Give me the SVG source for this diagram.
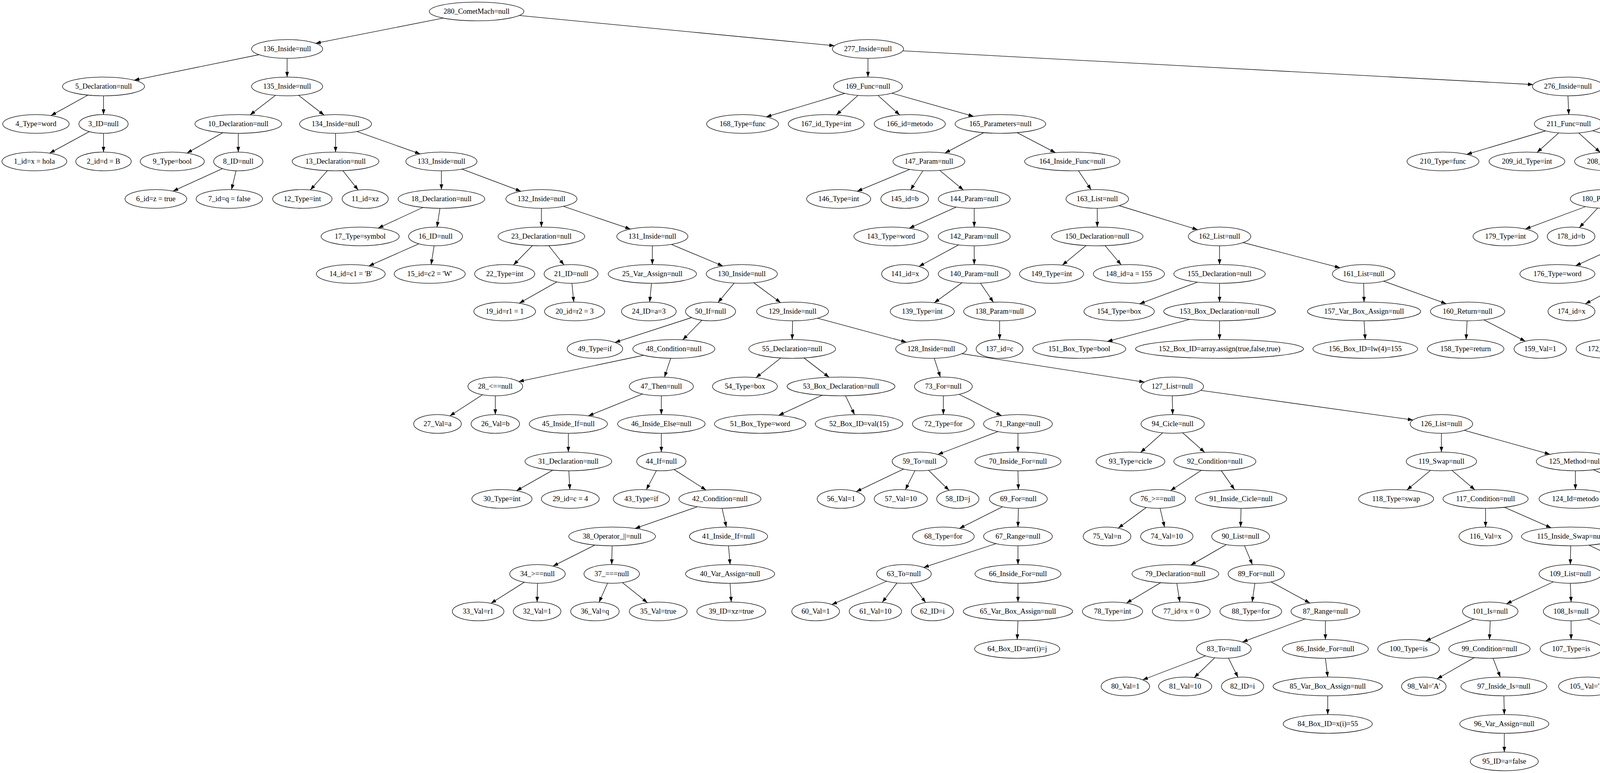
<svg xmlns="http://www.w3.org/2000/svg" width="7778" height="1979" viewBox="0 0 7778 1979">
<style>
ellipse{fill:none;stroke:#000;stroke-width:1.33}
text{font-family:"Liberation Serif","Times New Roman",serif;font-size:18.67px;text-anchor:middle;fill:#000}
#edges path{fill:none;stroke:#000;stroke-width:1.33;marker-end:url(#ah)}
</style>
<defs>
<marker id="ah" viewBox="0 0 13.33 9.33" refX="13.33" refY="4.67" markerWidth="13.33" markerHeight="9.33" markerUnits="userSpaceOnUse" orient="auto"><path d="M0,0L13.33,4.67L0,9.33z" fill="#000"/></marker>
</defs>
<rect width="7778" height="1979" fill="#fff"/>
<g id="edges">
<path d="M1134.3,46.3L807.8,110.9"/>
<path d="M1328.9,39.7L2136.4,117.1"/>
<path d="M663,140L343.3,205.3"/>
<path d="M735,149.3L735,197.3"/>
<path d="M2222,149.3L2222,197.3"/>
<path d="M2311.2,130.1L3924.8,216.5"/>
<path d="M225,243.5L130.5,295.9"/>
<path d="M265,245.3L265,293.3"/>
<path d="M705.4,244L640.1,294.2"/>
<path d="M764.3,244L829.6,294.6"/>
<path d="M2162.7,239L1961.5,299.2"/>
<path d="M2196.4,244.3L2140.8,294.2"/>
<path d="M2247.6,244.3L2303.3,294.3"/>
<path d="M2283.1,238.6L2492.6,297.9"/>
<path d="M4014,245.3L4016,293.3"/>
<path d="M4101.9,227.5L5297.1,311.1"/>
<path d="M228.8,336.9L127.1,392.1"/>
<path d="M265,341.3L265,389.3"/>
<path d="M570.5,339.7L478.6,392"/>
<path d="M610,341.3L610,389.3"/>
<path d="M859,341.3L859,389.3"/>
<path d="M913.5,336.6L1075.7,394.1"/>
<path d="M2518.4,339.6L2419,391.8"/>
<path d="M2603.8,339.6L2702,390.8"/>
<path d="M3956.6,335L3754.6,395.2"/>
<path d="M3990.4,340.3L3934.8,390.2"/>
<path d="M4041.4,340.3L4096.6,390.3"/>
<path d="M4076.9,334.6L4285.7,393.9"/>
<path d="M5386,341.3L5386,389.3"/>
<path d="M5464.8,329.7L5923,401.5"/>
<path d="M569.6,431.7L442.9,489.3"/>
<path d="M604.3,437.2L592.7,485.4"/>
<path d="M838.1,436.9L794.5,486.2"/>
<path d="M877.7,436.9L916.9,486.5"/>
<path d="M1130,437.3L1130,485.3"/>
<path d="M1182.4,432.9L1333.6,489.7"/>
<path d="M2329.1,433.6L2194.2,489.7"/>
<path d="M2362.7,437L2331,486"/>
<path d="M2405.7,436.2L2466.3,486.4"/>
<path d="M2760.9,437.1L2793.3,485.8"/>
<path d="M4300.3,434.6L4162.6,489.2"/>
<path d="M4383.1,436.5L4444.9,486"/>
<path d="M5340.4,433.7L5217.4,488.6"/>
<path d="M5386,437.3L5386,485.3"/>
<path d="M5435.1,433L5571.9,488"/>
<path d="M5972.2,436.2L5915.9,486.3"/>
<path d="M6023.5,436.2L6079.2,486.2"/>
<path d="M6068.8,426.9L6411.1,492.9"/>
<path d="M1082.9,531L968.1,584"/>
<path d="M1126.3,533.3L1118.7,581.4"/>
<path d="M1386,533.3L1386,581.3"/>
<path d="M1442,528.2L1614,586.4"/>
<path d="M2447.9,530.1L2327.5,584.4"/>
<path d="M2494,533.3L2494,581.3"/>
<path d="M2809,533.3L2809,581.3"/>
<path d="M2864.9,526.5L3066.1,588.1"/>
<path d="M4059.2,529L3904.9,586.3"/>
<path d="M4090.1,532.6L4043.1,582.8"/>
<path d="M4133.4,532.6L4178.6,582"/>
<path d="M4489.4,533.1L4520.8,581.7"/>
<path d="M5615.8,533.2L5597.2,581.4"/>
<path d="M5679.2,530.5L5815.3,583.9"/>
<path d="M6496,533.3L6496,581.3"/>
<path d="M6560.3,529.3L6739.7,585"/>
<path d="M1072.4,624.2L944.2,680.9"/>
<path d="M1111.3,629.3L1103.7,677.4"/>
<path d="M1363,628.8L1314.5,678.3"/>
<path d="M1404.7,628.9L1443.7,678.2"/>
<path d="M1670,629.3L1670,677.3"/>
<path d="M1718.5,625.6L1850.5,681"/>
<path d="M2454.1,626.9L2352.6,682"/>
<path d="M2494,629.3L2494,677.3"/>
<path d="M2780.6,628.6L2719.6,678.7"/>
<path d="M2829,628.9L2870.2,677.9"/>
<path d="M3122,629.3L3122,677.3"/>
<path d="M3182.4,621L3430.6,685.6"/>
<path d="M4153.9,626.1L4033.6,680.3"/>
<path d="M4200,629.3L4200,677.3"/>
<path d="M4536,629.3L4536,677.3"/>
<path d="M4590,623L4775,683.6"/>
<path d="M5542.2,626.1L5421.4,681.1"/>
<path d="M5577.3,629.1L5555.6,677.7"/>
<path d="M5619.7,627.8L5691.3,678.8"/>
<path d="M5891.4,628.9L5935.6,677.7"/>
<path d="M6457.6,627.1L6364.6,680"/>
<path d="M6496,629.3L6496,677.3"/>
<path d="M6536.1,626.9L6633.9,679.7"/>
<path d="M6840,628.3L6917.9,679.5"/>
<path d="M1425.8,721.7L1329.4,776.2"/>
<path d="M1464.2,725.3L1468.8,773.3"/>
<path d="M1667.8,725.3L1663.2,773.3"/>
<path d="M1879.5,724.7L1838.1,774.4"/>
<path d="M1929.6,723.9L1998.4,774.7"/>
<path d="M2462.7,723.9L2391.8,775.1"/>
<path d="M2510,724.9L2543,773.7"/>
<path d="M3065.7,722.3L2917.3,777.8"/>
<path d="M3122,725.3L3122,773.3"/>
<path d="M3491,725.3L3492,773.3"/>
<path d="M3542.1,719.8L3702.5,777.6"/>
<path d="M4160.1,722.9L4058.6,778"/>
<path d="M4200,725.3L4200,773.3"/>
<path d="M4503.1,724.3L4430.6,775.2"/>
<path d="M4551.1,725.1L4582,773.6"/>
<path d="M4829,725.3L4829,773.3"/>
<path d="M4889.7,716.9L5141.3,781.7"/>
<path d="M5677.9,722.2L5561.6,776.2"/>
<path d="M5724.7,725.3L5728.3,773.3"/>
<path d="M5955.3,725.3L5951.7,773.3"/>
<path d="M6012.1,722.5L6149.7,775.3"/>
<path d="M6641.9,723.8L6569.3,774.7"/>
<path d="M6692.6,724.8L6731.4,773.8"/>
<path d="M6951,725.3L6951,773.3"/>
<path d="M6993.6,721.5L7108.7,776.3"/>
<path d="M1770.6,813L1574.2,876.7"/>
<path d="M1796.9,819.8L1747.9,869.9"/>
<path d="M2029,821.3L2028,869.3"/>
<path d="M2092.9,814.6L2320.5,876.1"/>
<path d="M2559,821.3L2559,869.3"/>
<path d="M3046,817.6L2834.7,874.1"/>
<path d="M3122,821.3L3122,869.3"/>
<path d="M3492,821.3L3495,869.3"/>
<path d="M3755.8,821.3L3753.2,869.3"/>
<path d="M3798.8,818.9L3904.8,873.6"/>
<path d="M4179.8,820.7L4137.1,870"/>
<path d="M4227.4,820.2L4287.6,870.4"/>
<path d="M4772.5,818.3L4623.4,873.8"/>
<path d="M4829,821.3L4829,869.3"/>
<path d="M5202,821.3L5202,869.3"/>
<path d="M5252.2,816L5409.8,874.6"/>
<path d="M5723.8,821.2L5711.2,869.4"/>
<path d="M5765.1,819.5L5846.9,871.1"/>
<path d="M6185.3,821L6140.6,869.7"/>
<path d="M6268,819L6412.6,870.4"/>
<path d="M6756.5,821.2L6769.5,869.4"/>
<path d="M7116.3,819.3L7028.5,872"/>
<path d="M7173.5,820.7L7216.3,869.7"/>
<path d="M1647.7,909.5L1327.7,976.8"/>
<path d="M1717,917.2L1701,965.4"/>
<path d="M1998.8,916.5L1935.4,966.7"/>
<path d="M2058.1,916.4L2122.5,965.9"/>
<path d="M2391.7,917.2L2407.3,965.4"/>
<path d="M2462.4,905.5L2930,978.3"/>
<path d="M4302.9,917.1L4278,965.8"/>
<path d="M4753,913.6L4541.9,970.1"/>
<path d="M4829,917.3L4829,965.3"/>
<path d="M5202,917.3L5202,965.3"/>
<path d="M5460,917.3L5461,965.3"/>
<path d="M5505.5,913L5633.2,968.6"/>
<path d="M5882,917.3L5881,965.3"/>
<path d="M5925.6,914.4L6036.2,968.1"/>
<path d="M6952.3,913.7L6840,969.8"/>
<path d="M6986.3,917.2L6972.7,965.4"/>
<path d="M7023.3,915.4L7096.1,968.3"/>
<path d="M7249.9,917.2L7276.2,965.6"/>
<path d="M1235.3,1010.5L1151.6,1064.8"/>
<path d="M1268,1013.3L1268,1061.3"/>
<path d="M1644.8,1008.7L1506.1,1064.7"/>
<path d="M1693,1013.3L1693,1061.3"/>
<path d="M2104.5,1011.8L1993.3,1063.4"/>
<path d="M2164.5,1013.2L2187.6,1061.4"/>
<path d="M2415,1013.3L2415,1061.3"/>
<path d="M2455.1,1009.5L2564,1064.2"/>
<path d="M3001,1013.3L3002,1061.3"/>
<path d="M3073.6,999.4L3617.4,1075.2"/>
<path d="M5414.8,1010.6L5298.4,1064.4"/>
<path d="M5461,1013.3L5462,1061.3"/>
<path d="M5681,1013.3L5680,1061.3"/>
<path d="M5723.3,1010.8L5831.2,1065.6"/>
<path d="M6073,1013.2L6059,1061.5"/>
<path d="M6114.6,1011.6L6194.5,1063.1"/>
<path d="M7265,1012.2L7212.2,1062.3"/>
<path d="M7312.8,1012.2L7364.9,1062.1"/>
<path d="M1455,1109.3L1455,1157.3"/>
<path d="M1693,1109.3L1693,1157.3"/>
<path d="M2554.8,1104.8L2400.8,1163.5"/>
<path d="M2606,1109.3L2606,1157.3"/>
<path d="M2976.4,1108.1L2919.8,1158.4"/>
<path d="M3027.6,1108.1L3083.9,1158.1"/>
<path d="M3690,1109.3L3690,1157.3"/>
<path d="M3748.5,1101.7L3967.9,1163.1"/>
<path d="M5439.7,1108.6L5391.8,1158.6"/>
<path d="M5484.3,1108.6L5531.7,1158"/>
<path d="M6202.2,1108.3L6144.1,1158.1"/>
<path d="M6255.6,1108.3L6313.4,1158.3"/>
<path d="M7362.9,1108.3L7305.6,1158.7"/>
<path d="M7424.1,1107.5L7504.9,1158.5"/>
<path d="M1415.3,1203.7L1322.2,1256.3"/>
<path d="M1456.2,1205.3L1458.8,1253.3"/>
<path d="M1680.5,1204.8L1654.6,1253.7"/>
<path d="M1725.2,1201.9L1807.7,1254.7"/>
<path d="M2313.2,1200.8L2191.8,1258.8"/>
<path d="M2342.2,1205L2317.8,1253.7"/>
<path d="M2377.1,1204L2429.7,1255.4"/>
<path d="M2606,1205.3L2607,1253.3"/>
<path d="M3075.5,1204L2996.5,1256"/>
<path d="M3126.5,1205L3160.4,1253.5"/>
<path d="M3662.4,1204.1L3601.8,1254.3"/>
<path d="M3717,1204.2L3775.7,1254.1"/>
<path d="M4033,1205.3L4033,1253.3"/>
<path d="M4079.3,1202.6L4196.5,1256.4"/>
<path d="M5529.9,1204.5L5477.9,1254.3"/>
<path d="M5577.9,1204.5L5629.1,1254.1"/>
<path d="M6318.6,1204.6L6272.6,1254.8"/>
<path d="M6361.4,1204.6L6406.6,1254"/>
<path d="M7236.9,1201.1L7112.4,1258.3"/>
<path d="M7269.1,1205.1L7246.9,1253.6"/>
<path d="M7306.9,1203.7L7369.1,1255.7"/>
<path d="M7561.9,1204.9L7605,1253.5"/>
<path d="M1785.3,1297.4L1625.6,1352.9"/>
<path d="M1848.5,1301.3L1859.5,1349.3"/>
<path d="M2566.7,1297.4L2456,1352.8"/>
<path d="M2607,1301.3L2606,1349.3"/>
<path d="M2934.5,1299.1L2862.7,1352.1"/>
<path d="M2969.7,1301.2L2981.3,1349.4"/>
<path d="M3177,1301.3L3176,1349.3"/>
<path d="M3803,1301.3L3803,1349.3"/>
<path d="M3851.7,1298.8L3971,1351.3"/>
<path d="M4242,1301.3L4242,1349.3"/>
<path d="M4283.2,1298.8L4384.8,1351.8"/>
<path d="M5653,1301.3L5653,1349.3"/>
<path d="M6403.2,1300.4L6349.7,1350.3"/>
<path d="M6452.6,1300.4L6505.4,1350.2"/>
<path d="M7626,1301.3L7626,1349.3"/>
<path d="M1523.1,1395.3L1415.6,1449.4"/>
<path d="M1567,1397.3L1566,1445.3"/>
<path d="M1865,1397.3L1869,1445.3"/>
<path d="M2549.8,1391.8L2364.5,1452.7"/>
<path d="M2606,1397.3L2606,1445.3"/>
<path d="M3139.6,1394.2L3048.1,1446.8"/>
<path d="M3185.9,1397.1L3206.1,1445.5"/>
<path d="M4021,1397.3L4020,1445.3"/>
<path d="M4067.7,1395.6L4177.4,1448"/>
<path d="M4426,1397.3L4427,1445.3"/>
<path d="M6508.1,1396.6L6461,1446.9"/>
<path d="M6551.4,1396.6L6596.6,1446"/>
<path d="M1342.5,1490.4L1256.9,1544.5"/>
<path d="M1376,1493.3L1375,1541.3"/>
<path d="M1555.4,1493L1533.6,1541.7"/>
<path d="M1593.4,1491.4L1657.4,1543"/>
<path d="M1869,1493.3L1872,1541.3"/>
<path d="M2270,1488L2129.4,1547.7"/>
<path d="M2296.3,1492.5L2258.6,1542.1"/>
<path d="M2331.7,1492.5L2369.7,1542.6"/>
<path d="M2606,1493.3L2606,1541.3"/>
<path d="M2971.2,1491.9L2883.7,1544"/>
<path d="M3012.7,1493.3L3020.3,1541.3"/>
<path d="M3212.5,1493.3L3205.5,1541.3"/>
<path d="M3253.7,1489.7L3353.5,1543.9"/>
<path d="M3976.8,1489.5L3856.6,1545.8"/>
<path d="M4020,1493.3L4022,1541.3"/>
<path d="M4222,1493.3L4222,1541.3"/>
<path d="M4276.6,1489.1L4427,1543.8"/>
<path d="M6592.8,1492.4L6538.2,1542.2"/>
<path d="M6643,1492.4L6697,1542.2"/>
<path d="M2606,1589.3L2604,1637.3"/>
<path d="M3340.7,1584.6L3180.6,1643.7"/>
<path d="M3393,1589.3L3393,1637.3"/>
<path d="M3772.9,1584.6L3649.6,1641.3"/>
<path d="M3815,1589.3L3813,1637.3"/>
<path d="M4022,1589.3L4022,1637.3"/>
<path d="M4064.6,1584.5L4187,1639.7"/>
<path d="M4486,1589.3L4490,1637.3"/>
<path d="M6722,1589.3L6722,1637.3"/>
<path d="M3086.2,1679.1L2925.2,1740.5"/>
<path d="M3109.7,1683.9L3057.3,1734.7"/>
<path d="M3144.8,1685L3169.3,1733.9"/>
<path d="M3393,1685.3L3399,1733.3"/>
<path d="M3774.1,1683.6L3678.8,1738"/>
<path d="M3822.2,1685.2L3840.8,1733.4"/>
<path d="M4195.1,1683.7L4101,1736.5"/>
<path d="M4243.5,1685.2L4260.5,1733.4"/>
<path d="M4490,1685.3L4490,1733.3"/>
<path d="M3399,1781.3L3399,1829.3"/>
<path d="M3850,1781.3L3851,1829.3"/>
<path d="M4269,1781.3L4269,1829.3"/>
<path d="M3851,1877.3L3851,1925.3"/>
<path d="M4269,1877.3L4269,1925.3"/>
</g>
<g id="n280"><ellipse cx="1220" cy="29.3" rx="121" ry="24"/><text x="1220" y="35.3">280_CometMach=null</text></g>
<g id="n136"><ellipse cx="735" cy="125.3" rx="91" ry="24"/><text x="735" y="131.3">136_Inside=null</text></g>
<g id="n277"><ellipse cx="2222" cy="125.3" rx="91" ry="24"/><text x="2222" y="131.3">277_Inside=null</text></g>
<g id="n5"><ellipse cx="265" cy="221.3" rx="105" ry="24"/><text x="265" y="227.3">5_Declaration=null</text></g>
<g id="n135"><ellipse cx="735" cy="221.3" rx="91" ry="24"/><text x="735" y="227.3">135_Inside=null</text></g>
<g id="n169"><ellipse cx="2222" cy="221.3" rx="88" ry="24"/><text x="2222" y="227.3">169_Func=null</text></g>
<g id="n276"><ellipse cx="4014" cy="221.3" rx="91" ry="24"/><text x="4014" y="227.3">276_Inside=null</text></g>
<g id="n4"><ellipse cx="92" cy="317.3" rx="85" ry="24"/><text x="92" y="323.3">4_Type=word</text></g>
<g id="n3"><ellipse cx="265" cy="317.3" rx="63" ry="24"/><text x="265" y="323.3">3_ID=null</text></g>
<g id="n10"><ellipse cx="610" cy="317.3" rx="111" ry="24"/><text x="610" y="323.3">10_Declaration=null</text></g>
<g id="n134"><ellipse cx="859" cy="317.3" rx="92" ry="24"/><text x="859" y="323.3">134_Inside=null</text></g>
<g id="n168"><ellipse cx="1901" cy="317.3" rx="92" ry="24"/><text x="1901" y="323.3">168_Type=func</text></g>
<g id="n167"><ellipse cx="2115" cy="317.3" rx="97" ry="24"/><text x="2115" y="323.3">167_id_Type=int</text></g>
<g id="n166"><ellipse cx="2329" cy="317.3" rx="91" ry="24"/><text x="2329" y="323.3">166_id=metodo</text></g>
<g id="n165"><ellipse cx="2561" cy="317.3" rx="116" ry="24"/><text x="2561" y="323.3">165_Parameters=null</text></g>
<g id="n211"><ellipse cx="4016" cy="317.3" rx="88" ry="24"/><text x="4016" y="323.3">211_Func=null</text></g>
<g id="n275"><ellipse cx="5386" cy="317.3" rx="92" ry="24"/><text x="5386" y="323.3">275_Inside=null</text></g>
<g id="n1"><ellipse cx="88" cy="413.3" rx="83" ry="24"/><text x="88" y="419.3">1_id=x = hola</text></g>
<g id="n2"><ellipse cx="265" cy="413.3" rx="71" ry="24"/><text x="265" y="419.3">2_id=d = B</text></g>
<g id="n9"><ellipse cx="441" cy="413.3" rx="82" ry="24"/><text x="441" y="419.3">9_Type=bool</text></g>
<g id="n8"><ellipse cx="610" cy="413.3" rx="63" ry="24"/><text x="610" y="419.3">8_ID=null</text></g>
<g id="n13"><ellipse cx="859" cy="413.3" rx="111" ry="24"/><text x="859" y="419.3">13_Declaration=null</text></g>
<g id="n133"><ellipse cx="1130" cy="413.3" rx="91" ry="24"/><text x="1130" y="419.3">133_Inside=null</text></g>
<g id="n147"><ellipse cx="2378" cy="413.3" rx="92" ry="24"/><text x="2378" y="419.3">147_Param=null</text></g>
<g id="n164"><ellipse cx="2745" cy="413.3" rx="122" ry="24"/><text x="2745" y="419.3">164_Inside_Func=null</text></g>
<g id="n210"><ellipse cx="3694" cy="413.3" rx="92" ry="24"/><text x="3694" y="419.3">210_Type=func</text></g>
<g id="n209"><ellipse cx="3909" cy="413.3" rx="97" ry="24"/><text x="3909" y="419.3">209_id_Type=int</text></g>
<g id="n208"><ellipse cx="4122" cy="413.3" rx="91" ry="24"/><text x="4122" y="419.3">208_id=metodo</text></g>
<g id="n207"><ellipse cx="4354" cy="413.3" rx="116" ry="24"/><text x="4354" y="419.3">207_Parameters=null</text></g>
<g id="n244"><ellipse cx="5386" cy="413.3" rx="86" ry="24"/><text x="5386" y="419.3">244_Void=null</text></g>
<g id="n274"><ellipse cx="5998" cy="413.3" rx="86" ry="24"/><text x="5998" y="419.3">274_Void=null</text></g>
<g id="n6"><ellipse cx="399" cy="509.3" rx="79" ry="24"/><text x="399" y="515.3">6_id=z = true</text></g>
<g id="n7"><ellipse cx="587" cy="509.3" rx="85" ry="24"/><text x="587" y="515.3">7_id=q = false</text></g>
<g id="n12"><ellipse cx="774" cy="509.3" rx="76" ry="24"/><text x="774" y="515.3">12_Type=int</text></g>
<g id="n11"><ellipse cx="935" cy="509.3" rx="59" ry="24"/><text x="935" y="515.3">11_id=xz</text></g>
<g id="n18"><ellipse cx="1130" cy="509.3" rx="111" ry="24"/><text x="1130" y="515.3">18_Declaration=null</text></g>
<g id="n132"><ellipse cx="1386" cy="509.3" rx="91" ry="24"/><text x="1386" y="515.3">132_Inside=null</text></g>
<g id="n146"><ellipse cx="2147" cy="509.3" rx="82" ry="24"/><text x="2147" y="515.3">146_Type=int</text></g>
<g id="n145"><ellipse cx="2316" cy="509.3" rx="61" ry="24"/><text x="2316" y="515.3">145_id=b</text></g>
<g id="n144"><ellipse cx="2494" cy="509.3" rx="92" ry="24"/><text x="2494" y="515.3">144_Param=null</text></g>
<g id="n163"><ellipse cx="2809" cy="509.3" rx="80" ry="24"/><text x="2809" y="515.3">163_List=null</text></g>
<g id="n180"><ellipse cx="4112" cy="509.3" rx="92" ry="24"/><text x="4112" y="515.3">180_Param=null</text></g>
<g id="n206"><ellipse cx="4474" cy="509.3" rx="122" ry="24"/><text x="4474" y="515.3">206_Inside_Func=null</text></g>
<g id="n243"><ellipse cx="5171" cy="509.3" rx="92" ry="24"/><text x="5171" y="515.3">243_Type=void</text></g>
<g id="n242"><ellipse cx="5386" cy="509.3" rx="97" ry="24"/><text x="5386" y="515.3">242_id=metodo1</text></g>
<g id="n241"><ellipse cx="5625" cy="509.3" rx="116" ry="24"/><text x="5625" y="515.3">241_Parameters=null</text></g>
<g id="n273"><ellipse cx="5890" cy="509.3" rx="92" ry="24"/><text x="5890" y="515.3">273_Type=void</text></g>
<g id="n272"><ellipse cx="6105" cy="509.3" rx="97" ry="24"/><text x="6105" y="515.3">272_id=metodo2</text></g>
<g id="n271"><ellipse cx="6496" cy="509.3" rx="116" ry="24"/><text x="6496" y="515.3">271_Parameters=null</text></g>
<g id="n17"><ellipse cx="922" cy="605.3" rx="100" ry="24"/><text x="922" y="611.3">17_Type=symbol</text></g>
<g id="n16"><ellipse cx="1115" cy="605.3" rx="69" ry="24"/><text x="1115" y="611.3">16_ID=null</text></g>
<g id="n23"><ellipse cx="1386" cy="605.3" rx="111" ry="24"/><text x="1386" y="611.3">23_Declaration=null</text></g>
<g id="n131"><ellipse cx="1670" cy="605.3" rx="91" ry="24"/><text x="1670" y="611.3">131_Inside=null</text></g>
<g id="n143"><ellipse cx="2281" cy="605.3" rx="95" ry="24"/><text x="2281" y="611.3">143_Type=word</text></g>
<g id="n142"><ellipse cx="2494" cy="605.3" rx="92" ry="24"/><text x="2494" y="611.3">142_Param=null</text></g>
<g id="n150"><ellipse cx="2809" cy="605.3" rx="117" ry="24"/><text x="2809" y="611.3">150_Declaration=null</text></g>
<g id="n162"><ellipse cx="3122" cy="605.3" rx="80" ry="24"/><text x="3122" y="611.3">162_List=null</text></g>
<g id="n179"><ellipse cx="3854" cy="605.3" rx="83" ry="24"/><text x="3854" y="611.3">179_Type=int</text></g>
<g id="n178"><ellipse cx="4022" cy="605.3" rx="61" ry="24"/><text x="4022" y="611.3">178_id=b</text></g>
<g id="n177"><ellipse cx="4200" cy="605.3" rx="92" ry="24"/><text x="4200" y="611.3">177_Param=null</text></g>
<g id="n205"><ellipse cx="4536" cy="605.3" rx="80" ry="24"/><text x="4536" y="611.3">205_List=null</text></g>
<g id="n234"><ellipse cx="5588" cy="605.3" rx="92" ry="24"/><text x="5588" y="611.3">234_Param=null</text></g>
<g id="n240"><ellipse cx="5870" cy="605.3" rx="122" ry="24"/><text x="5870" y="611.3">240_Inside_Void=null</text></g>
<g id="n251"><ellipse cx="6496" cy="605.3" rx="92" ry="24"/><text x="6496" y="611.3">251_Param=null</text></g>
<g id="n270"><ellipse cx="6805" cy="605.3" rx="122" ry="24"/><text x="6805" y="611.3">270_Inside_Void=null</text></g>
<g id="n14"><ellipse cx="898" cy="701.3" rx="88" ry="24"/><text x="898" y="707.3">14_id=c1 = 'B'</text></g>
<g id="n15"><ellipse cx="1100" cy="701.3" rx="91" ry="24"/><text x="1100" y="707.3">15_id=c2 = 'W'</text></g>
<g id="n22"><ellipse cx="1292" cy="701.3" rx="77" ry="24"/><text x="1292" y="707.3">22_Type=int</text></g>
<g id="n21"><ellipse cx="1462" cy="701.3" rx="69" ry="24"/><text x="1462" y="707.3">21_ID=null</text></g>
<g id="n25"><ellipse cx="1670" cy="701.3" rx="113" ry="24"/><text x="1670" y="707.3">25_Var_Assign=null</text></g>
<g id="n130"><ellipse cx="1899" cy="701.3" rx="91" ry="24"/><text x="1899" y="707.3">130_Inside=null</text></g>
<g id="n141"><ellipse cx="2317" cy="701.3" rx="60" ry="24"/><text x="2317" y="707.3">141_id=x</text></g>
<g id="n140"><ellipse cx="2494" cy="701.3" rx="92" ry="24"/><text x="2494" y="707.3">140_Param=null</text></g>
<g id="n149"><ellipse cx="2692" cy="701.3" rx="82" ry="24"/><text x="2692" y="707.3">149_Type=int</text></g>
<g id="n148"><ellipse cx="2890" cy="701.3" rx="91" ry="24"/><text x="2890" y="707.3">148_id=a = 155</text></g>
<g id="n155"><ellipse cx="3122" cy="701.3" rx="117" ry="24"/><text x="3122" y="707.3">155_Declaration=null</text></g>
<g id="n161"><ellipse cx="3491" cy="701.3" rx="80" ry="24"/><text x="3491" y="707.3">161_List=null</text></g>
<g id="n176"><ellipse cx="3987" cy="701.3" rx="96" ry="24"/><text x="3987" y="707.3">176_Type=word</text></g>
<g id="n175"><ellipse cx="4200" cy="701.3" rx="92" ry="24"/><text x="4200" y="707.3">175_Param=null</text></g>
<g id="n183"><ellipse cx="4536" cy="701.3" rx="117" ry="24"/><text x="4536" y="707.3">183_Declaration=null</text></g>
<g id="n204"><ellipse cx="4829" cy="701.3" rx="80" ry="24"/><text x="4829" y="707.3">204_List=null</text></g>
<g id="n233"><ellipse cx="5377" cy="701.3" rx="82" ry="24"/><text x="5377" y="707.3">233_Type=int</text></g>
<g id="n232"><ellipse cx="5545" cy="701.3" rx="61" ry="24"/><text x="5545" y="707.3">232_id=b</text></g>
<g id="n231"><ellipse cx="5723" cy="701.3" rx="92" ry="24"/><text x="5723" y="707.3">231_Param=null</text></g>
<g id="n239"><ellipse cx="5957" cy="701.3" rx="117" ry="24"/><text x="5957" y="707.3">239_Declaration=null</text></g>
<g id="n250"><ellipse cx="6327" cy="701.3" rx="82" ry="24"/><text x="6327" y="707.3">250_Type=int</text></g>
<g id="n249"><ellipse cx="6496" cy="701.3" rx="61" ry="24"/><text x="6496" y="707.3">249_id=b</text></g>
<g id="n248"><ellipse cx="6674" cy="701.3" rx="92" ry="24"/><text x="6674" y="707.3">248_Param=null</text></g>
<g id="n269"><ellipse cx="6951" cy="701.3" rx="79" ry="24"/><text x="6951" y="707.3">269_For=null</text></g>
<g id="n19"><ellipse cx="1292" cy="797.3" rx="79" ry="24"/><text x="1292" y="803.3">19_id=r1 = 1</text></g>
<g id="n20"><ellipse cx="1471" cy="797.3" rx="77" ry="24"/><text x="1471" y="803.3">20_id=r2 = 3</text></g>
<g id="n24"><ellipse cx="1661" cy="797.3" rx="70" ry="24"/><text x="1661" y="803.3">24_ID=a=3</text></g>
<g id="n50"><ellipse cx="1819" cy="797.3" rx="64" ry="24"/><text x="1819" y="803.3">50_If=null</text></g>
<g id="n129"><ellipse cx="2029" cy="797.3" rx="92" ry="24"/><text x="2029" y="803.3">129_Inside=null</text></g>
<g id="n139"><ellipse cx="2361" cy="797.3" rx="82" ry="24"/><text x="2361" y="803.3">139_Type=int</text></g>
<g id="n138"><ellipse cx="2559" cy="797.3" rx="92" ry="24"/><text x="2559" y="803.3">138_Param=null</text></g>
<g id="n154"><ellipse cx="2865" cy="797.3" rx="90" ry="24"/><text x="2865" y="803.3">154_Type=box</text></g>
<g id="n153"><ellipse cx="3122" cy="797.3" rx="143" ry="24"/><text x="3122" y="803.3">153_Box_Declaration=null</text></g>
<g id="n157"><ellipse cx="3492" cy="797.3" rx="145" ry="24"/><text x="3492" y="803.3">157_Var_Box_Assign=null</text></g>
<g id="n160"><ellipse cx="3757" cy="797.3" rx="95" ry="24"/><text x="3757" y="803.3">160_Return=null</text></g>
<g id="n174"><ellipse cx="4023" cy="797.3" rx="60" ry="24"/><text x="4023" y="803.3">174_id=x</text></g>
<g id="n173"><ellipse cx="4200" cy="797.3" rx="92" ry="24"/><text x="4200" y="803.3">173_Param=null</text></g>
<g id="n182"><ellipse cx="4399" cy="797.3" rx="82" ry="24"/><text x="4399" y="803.3">182_Type=int</text></g>
<g id="n181"><ellipse cx="4597" cy="797.3" rx="91" ry="24"/><text x="4597" y="803.3">181_id=a = 155</text></g>
<g id="n188"><ellipse cx="4829" cy="797.3" rx="117" ry="24"/><text x="4829" y="803.3">188_Declaration=null</text></g>
<g id="n203"><ellipse cx="5202" cy="797.3" rx="80" ry="24"/><text x="5202" y="803.3">203_List=null</text></g>
<g id="n230"><ellipse cx="5516" cy="797.3" rx="96" ry="24"/><text x="5516" y="803.3">230_Type=word</text></g>
<g id="n229"><ellipse cx="5730" cy="797.3" rx="92" ry="24"/><text x="5730" y="803.3">229_Param=null</text></g>
<g id="n238"><ellipse cx="5950" cy="797.3" rx="90" ry="24"/><text x="5950" y="803.3">238_Type=box</text></g>
<g id="n237"><ellipse cx="6207" cy="797.3" rx="143" ry="24"/><text x="6207" y="803.3">237_Box_Declaration=null</text></g>
<g id="n247"><ellipse cx="6537" cy="797.3" rx="96" ry="24"/><text x="6537" y="803.3">247_Type=word</text></g>
<g id="n246"><ellipse cx="6750" cy="797.3" rx="93" ry="24"/><text x="6750" y="803.3">246_Param=null</text></g>
<g id="n268"><ellipse cx="6951" cy="797.3" rx="85" ry="24"/><text x="6951" y="803.3">268_Type=for</text></g>
<g id="n267"><ellipse cx="7153" cy="797.3" rx="92" ry="24"/><text x="7153" y="803.3">267_Range=null</text></g>
<g id="n49"><ellipse cx="1523" cy="893.3" rx="71" ry="24"/><text x="1523" y="899.3">49_Type=if</text></g>
<g id="n48"><ellipse cx="1725" cy="893.3" rx="105" ry="24"/><text x="1725" y="899.3">48_Condition=null</text></g>
<g id="n55"><ellipse cx="2028" cy="893.3" rx="111" ry="24"/><text x="2028" y="899.3">55_Declaration=null</text></g>
<g id="n128"><ellipse cx="2384" cy="893.3" rx="91" ry="24"/><text x="2384" y="899.3">128_Inside=null</text></g>
<g id="n137"><ellipse cx="2559" cy="893.3" rx="60" ry="24"/><text x="2559" y="899.3">137_id=c</text></g>
<g id="n151"><ellipse cx="2763" cy="893.3" rx="119" ry="24"/><text x="2763" y="899.3">151_Box_Type=bool</text></g>
<g id="n152"><ellipse cx="3122" cy="893.3" rx="215" ry="24"/><text x="3122" y="899.3">152_Box_ID=array.assign(true,false,true)</text></g>
<g id="n156"><ellipse cx="3495" cy="893.3" rx="134" ry="24"/><text x="3495" y="899.3">156_Box_ID=lw(4)=155</text></g>
<g id="n158"><ellipse cx="3752" cy="893.3" rx="98" ry="24"/><text x="3752" y="899.3">158_Type=return</text></g>
<g id="n159"><ellipse cx="3943" cy="893.3" rx="67" ry="24"/><text x="3943" y="899.3">159_Val=1</text></g>
<g id="n172"><ellipse cx="4117" cy="893.3" rx="82" ry="24"/><text x="4117" y="899.3">172_Type=int</text></g>
<g id="n171"><ellipse cx="4315" cy="893.3" rx="92" ry="24"/><text x="4315" y="899.3">171_Param=null</text></g>
<g id="n187"><ellipse cx="4571" cy="893.3" rx="90" ry="24"/><text x="4571" y="899.3">187_Type=box</text></g>
<g id="n186"><ellipse cx="4829" cy="893.3" rx="143" ry="24"/><text x="4829" y="899.3">186_Box_Declaration=null</text></g>
<g id="n190"><ellipse cx="5202" cy="893.3" rx="145" ry="24"/><text x="5202" y="899.3">190_Var_Box_Assign=null</text></g>
<g id="n202"><ellipse cx="5460" cy="893.3" rx="80" ry="24"/><text x="5460" y="899.3">202_List=null</text></g>
<g id="n228"><ellipse cx="5705" cy="893.3" rx="60" ry="24"/><text x="5705" y="899.3">228_id=x</text></g>
<g id="n227"><ellipse cx="5882" cy="893.3" rx="92" ry="24"/><text x="5882" y="899.3">227_Param=null</text></g>
<g id="n235"><ellipse cx="6119" cy="893.3" rx="119" ry="24"/><text x="6119" y="899.3">235_Box_Type=bool</text></g>
<g id="n236"><ellipse cx="6477" cy="893.3" rx="215" ry="24"/><text x="6477" y="899.3">236_Box_ID=array.assign(true,false,true)</text></g>
<g id="n245"><ellipse cx="6776" cy="893.3" rx="60" ry="24"/><text x="6776" y="899.3">245_id=x</text></g>
<g id="n255"><ellipse cx="6993" cy="893.3" rx="77" ry="24"/><text x="6993" y="899.3">255_To=null</text></g>
<g id="n266"><ellipse cx="7237" cy="893.3" rx="116" ry="24"/><text x="7237" y="899.3">266_Inside_For=null</text></g>
<g id="n28"><ellipse cx="1268" cy="989.3" rx="70" ry="24"/><text x="1268" y="995.3">28_&lt;==null</text></g>
<g id="n47"><ellipse cx="1693" cy="989.3" rx="82" ry="24"/><text x="1693" y="995.3">47_Then=null</text></g>
<g id="n54"><ellipse cx="1907" cy="989.3" rx="83" ry="24"/><text x="1907" y="995.3">54_Type=box</text></g>
<g id="n53"><ellipse cx="2153" cy="989.3" rx="138" ry="24"/><text x="2153" y="995.3">53_Box_Declaration=null</text></g>
<g id="n73"><ellipse cx="2415" cy="989.3" rx="74" ry="24"/><text x="2415" y="995.3">73_For=null</text></g>
<g id="n127"><ellipse cx="3001" cy="989.3" rx="80" ry="24"/><text x="3001" y="995.3">127_List=null</text></g>
<g id="n170"><ellipse cx="4266" cy="989.3" rx="60" ry="24"/><text x="4266" y="995.3">170_id=c</text></g>
<g id="n184"><ellipse cx="4470" cy="989.3" rx="120" ry="24"/><text x="4470" y="995.3">184_Box_Type=bool</text></g>
<g id="n185"><ellipse cx="4829" cy="989.3" rx="215" ry="24"/><text x="4829" y="995.3">185_Box_ID=array.assign(true,false,true)</text></g>
<g id="n189"><ellipse cx="5202" cy="989.3" rx="135" ry="24"/><text x="5202" y="995.3">189_Box_ID=lw(4)=155</text></g>
<g id="n198"><ellipse cx="5461" cy="989.3" rx="101" ry="24"/><text x="5461" y="995.3">198_Method=null</text></g>
<g id="n201"><ellipse cx="5681" cy="989.3" rx="95" ry="24"/><text x="5681" y="995.3">201_Return=null</text></g>
<g id="n226"><ellipse cx="5881" cy="989.3" rx="82" ry="24"/><text x="5881" y="995.3">226_Type=int</text></g>
<g id="n225"><ellipse cx="6080" cy="989.3" rx="94" ry="24"/><text x="6080" y="995.3">225_Param=null</text></g>
<g id="n252"><ellipse cx="6801" cy="989.3" rx="67" ry="24"/><text x="6801" y="995.3">252_Val=1</text></g>
<g id="n253"><ellipse cx="6966" cy="989.3" rx="73" ry="24"/><text x="6966" y="995.3">253_Val=10</text></g>
<g id="n254"><ellipse cx="7125" cy="989.3" rx="60" ry="24"/><text x="7125" y="995.3">254_ID=j</text></g>
<g id="n265"><ellipse cx="7289" cy="989.3" rx="79" ry="24"/><text x="7289" y="995.3">265_For=null</text></g>
<g id="n27"><ellipse cx="1120" cy="1085.3" rx="61" ry="24"/><text x="1120" y="1091.3">27_Val=a</text></g>
<g id="n26"><ellipse cx="1268" cy="1085.3" rx="62" ry="24"/><text x="1268" y="1091.3">26_Val=b</text></g>
<g id="n45"><ellipse cx="1455" cy="1085.3" rx="100" ry="24"/><text x="1455" y="1091.3">45_Inside_If=null</text></g>
<g id="n46"><ellipse cx="1693" cy="1085.3" rx="112" ry="24"/><text x="1693" y="1091.3">46_Inside_Else=null</text></g>
<g id="n51"><ellipse cx="1946" cy="1085.3" rx="117" ry="24"/><text x="1946" y="1091.3">51_Box_Type=word</text></g>
<g id="n52"><ellipse cx="2199" cy="1085.3" rx="112" ry="24"/><text x="2199" y="1091.3">52_Box_ID=val(15)</text></g>
<g id="n72"><ellipse cx="2415" cy="1085.3" rx="79" ry="24"/><text x="2415" y="1091.3">72_Type=for</text></g>
<g id="n71"><ellipse cx="2606" cy="1085.3" rx="88" ry="24"/><text x="2606" y="1091.3">71_Range=null</text></g>
<g id="n94"><ellipse cx="3002" cy="1085.3" rx="81" ry="24"/><text x="3002" y="1091.3">94_Cicle=null</text></g>
<g id="n126"><ellipse cx="3690" cy="1085.3" rx="80" ry="24"/><text x="3690" y="1091.3">126_List=null</text></g>
<g id="n197"><ellipse cx="5253" cy="1085.3" rx="93" ry="24"/><text x="5253" y="1091.3">197_Id=metodo</text></g>
<g id="n196"><ellipse cx="5462" cy="1085.3" rx="92" ry="24"/><text x="5462" y="1091.3">196_Param=null</text></g>
<g id="n199"><ellipse cx="5680" cy="1085.3" rx="98" ry="24"/><text x="5680" y="1091.3">199_Type=return</text></g>
<g id="n200"><ellipse cx="5870" cy="1085.3" rx="68" ry="24"/><text x="5870" y="1091.3">200_Val=1</text></g>
<g id="n224"><ellipse cx="6052" cy="1085.3" rx="60" ry="24"/><text x="6052" y="1091.3">224_id=c</text></g>
<g id="n223"><ellipse cx="6229" cy="1085.3" rx="92" ry="24"/><text x="6229" y="1091.3">223_Param=null</text></g>
<g id="n264"><ellipse cx="7188" cy="1085.3" rx="85" ry="24"/><text x="7188" y="1091.3">264_Type=for</text></g>
<g id="n263"><ellipse cx="7389" cy="1085.3" rx="92" ry="24"/><text x="7389" y="1091.3">263_Range=null</text></g>
<g id="n31"><ellipse cx="1455" cy="1181.3" rx="111" ry="24"/><text x="1455" y="1187.3">31_Declaration=null</text></g>
<g id="n44"><ellipse cx="1693" cy="1181.3" rx="63" ry="24"/><text x="1693" y="1187.3">44_If=null</text></g>
<g id="n59"><ellipse cx="2354" cy="1181.3" rx="70" ry="24"/><text x="2354" y="1187.3">59_To=null</text></g>
<g id="n70"><ellipse cx="2606" cy="1181.3" rx="110" ry="24"/><text x="2606" y="1187.3">70_Inside_For=null</text></g>
<g id="n93"><ellipse cx="2894" cy="1181.3" rx="88" ry="24"/><text x="2894" y="1187.3">93_Type=cicle</text></g>
<g id="n92"><ellipse cx="3110" cy="1181.3" rx="105" ry="24"/><text x="3110" y="1187.3">92_Condition=null</text></g>
<g id="n119"><ellipse cx="3690" cy="1181.3" rx="90" ry="24"/><text x="3690" y="1187.3">119_Swap=null</text></g>
<g id="n125"><ellipse cx="4033" cy="1181.3" rx="100" ry="24"/><text x="4033" y="1187.3">125_Method=null</text></g>
<g id="n195"><ellipse cx="5370" cy="1181.3" rx="68" ry="24"/><text x="5370" y="1187.3">195_Val=1</text></g>
<g id="n194"><ellipse cx="5554" cy="1181.3" rx="92" ry="24"/><text x="5554" y="1187.3">194_Param=null</text></g>
<g id="n222"><ellipse cx="6117" cy="1181.3" rx="106" ry="24"/><text x="6117" y="1187.3">222_Type=symbol</text></g>
<g id="n221"><ellipse cx="6340" cy="1181.3" rx="92" ry="24"/><text x="6340" y="1187.3">221_Param=null</text></g>
<g id="n259"><ellipse cx="7280" cy="1181.3" rx="76" ry="24"/><text x="7280" y="1187.3">259_To=null</text></g>
<g id="n262"><ellipse cx="7541" cy="1181.3" rx="116" ry="24"/><text x="7541" y="1187.3">262_Inside_For=null</text></g>
<g id="n30"><ellipse cx="1285" cy="1277.3" rx="77" ry="24"/><text x="1285" y="1283.3">30_Type=int</text></g>
<g id="n29"><ellipse cx="1460" cy="1277.3" rx="74" ry="24"/><text x="1460" y="1283.3">29_id=c = 4</text></g>
<g id="n43"><ellipse cx="1642" cy="1277.3" rx="72" ry="24"/><text x="1642" y="1283.3">43_Type=if</text></g>
<g id="n42"><ellipse cx="1843" cy="1277.3" rx="105" ry="24"/><text x="1843" y="1283.3">42_Condition=null</text></g>
<g id="n56"><ellipse cx="2153" cy="1277.3" rx="61" ry="24"/><text x="2153" y="1283.3">56_Val=1</text></g>
<g id="n57"><ellipse cx="2306" cy="1277.3" rx="68" ry="24"/><text x="2306" y="1283.3">57_Val=10</text></g>
<g id="n58"><ellipse cx="2452" cy="1277.3" rx="54" ry="24"/><text x="2452" y="1283.3">58_ID=j</text></g>
<g id="n69"><ellipse cx="2607" cy="1277.3" rx="74" ry="24"/><text x="2607" y="1283.3">69_For=null</text></g>
<g id="n76"><ellipse cx="2964" cy="1277.3" rx="71" ry="24"/><text x="2964" y="1283.3">76_&gt;==null</text></g>
<g id="n91"><ellipse cx="3177" cy="1277.3" rx="117" ry="24"/><text x="3177" y="1283.3">91_Inside_Cicle=null</text></g>
<g id="n118"><ellipse cx="3574" cy="1277.3" rx="96" ry="24"/><text x="3574" y="1283.3">118_Type=swap</text></g>
<g id="n117"><ellipse cx="3803" cy="1277.3" rx="109" ry="24"/><text x="3803" y="1283.3">117_Condition=null</text></g>
<g id="n124"><ellipse cx="4033" cy="1277.3" rx="93" ry="24"/><text x="4033" y="1283.3">124_Id=metodo</text></g>
<g id="n123"><ellipse cx="4242" cy="1277.3" rx="93" ry="24"/><text x="4242" y="1283.3">123_Param=null</text></g>
<g id="n193"><ellipse cx="5454" cy="1277.3" rx="83" ry="24"/><text x="5454" y="1283.3">193_Val=hola</text></g>
<g id="n192"><ellipse cx="5653" cy="1277.3" rx="93" ry="24"/><text x="5653" y="1283.3">192_Param=null</text></g>
<g id="n220"><ellipse cx="6252" cy="1277.3" rx="59" ry="24"/><text x="6252" y="1283.3">220_id=z</text></g>
<g id="n219"><ellipse cx="6428" cy="1277.3" rx="92" ry="24"/><text x="6428" y="1283.3">219_Param=null</text></g>
<g id="n256"><ellipse cx="7071" cy="1277.3" rx="68" ry="24"/><text x="7071" y="1283.3">256_Val=1</text></g>
<g id="n257"><ellipse cx="7236" cy="1277.3" rx="74" ry="24"/><text x="7236" y="1283.3">257_Val=10</text></g>
<g id="n258"><ellipse cx="7395" cy="1277.3" rx="60" ry="24"/><text x="7395" y="1283.3">258_ID=i</text></g>
<g id="n261"><ellipse cx="7626" cy="1277.3" rx="145" ry="24"/><text x="7626" y="1283.3">261_Var_Box_Assign=null</text></g>
<g id="n38"><ellipse cx="1567" cy="1373.3" rx="111" ry="24"/><text x="1567" y="1379.3">38_Operator_||=null</text></g>
<g id="n41"><ellipse cx="1865" cy="1373.3" rx="100" ry="24"/><text x="1865" y="1379.3">41_Inside_If=null</text></g>
<g id="n68"><ellipse cx="2415" cy="1373.3" rx="79" ry="24"/><text x="2415" y="1379.3">68_Type=for</text></g>
<g id="n67"><ellipse cx="2606" cy="1373.3" rx="88" ry="24"/><text x="2606" y="1379.3">67_Range=null</text></g>
<g id="n75"><ellipse cx="2834" cy="1373.3" rx="61" ry="24"/><text x="2834" y="1379.3">75_Val=n</text></g>
<g id="n74"><ellipse cx="2987" cy="1373.3" rx="67" ry="24"/><text x="2987" y="1379.3">74_Val=10</text></g>
<g id="n90"><ellipse cx="3176" cy="1373.3" rx="74" ry="24"/><text x="3176" y="1379.3">90_List=null</text></g>
<g id="n116"><ellipse cx="3803" cy="1373.3" rx="68" ry="24"/><text x="3803" y="1379.3">116_Val=x</text></g>
<g id="n115"><ellipse cx="4021" cy="1373.3" rx="126" ry="24"/><text x="4021" y="1379.3">115_Inside_Swap=null</text></g>
<g id="n122"><ellipse cx="4242" cy="1373.3" rx="68" ry="24"/><text x="4242" y="1379.3">122_Val=1</text></g>
<g id="n121"><ellipse cx="4426" cy="1373.3" rx="93" ry="24"/><text x="4426" y="1379.3">121_Param=null</text></g>
<g id="n191"><ellipse cx="5653" cy="1373.3" rx="68" ry="24"/><text x="5653" y="1379.3">191_Val=9</text></g>
<g id="n218"><ellipse cx="6325" cy="1373.3" rx="88" ry="24"/><text x="6325" y="1379.3">218_Type=dec</text></g>
<g id="n217"><ellipse cx="6530" cy="1373.3" rx="92" ry="24"/><text x="6530" y="1379.3">217_Param=null</text></g>
<g id="n260"><ellipse cx="7626" cy="1373.3" rx="117" ry="24"/><text x="7626" y="1379.3">260_Box_ID=arr(i)=j</text></g>
<g id="n34"><ellipse cx="1376" cy="1469.3" rx="71" ry="24"/><text x="1376" y="1475.3">34_&gt;==null</text></g>
<g id="n37"><ellipse cx="1566" cy="1469.3" rx="71" ry="24"/><text x="1566" y="1475.3">37_===null</text></g>
<g id="n40"><ellipse cx="1869" cy="1469.3" rx="114" ry="24"/><text x="1869" y="1475.3">40_Var_Assign=null</text></g>
<g id="n63"><ellipse cx="2314" cy="1469.3" rx="70" ry="24"/><text x="2314" y="1475.3">63_To=null</text></g>
<g id="n66"><ellipse cx="2606" cy="1469.3" rx="110" ry="24"/><text x="2606" y="1475.3">66_Inside_For=null</text></g>
<g id="n79"><ellipse cx="3009" cy="1469.3" rx="111" ry="24"/><text x="3009" y="1475.3">79_Declaration=null</text></g>
<g id="n89"><ellipse cx="3216" cy="1469.3" rx="72" ry="24"/><text x="3216" y="1475.3">89_For=null</text></g>
<g id="n109"><ellipse cx="4020" cy="1469.3" rx="80" ry="24"/><text x="4020" y="1475.3">109_List=null</text></g>
<g id="n114"><ellipse cx="4222" cy="1469.3" rx="97" ry="24"/><text x="4222" y="1475.3">114_Default=null</text></g>
<g id="n120"><ellipse cx="4427" cy="1469.3" rx="82" ry="24"/><text x="4427" y="1475.3">120_Val=hola</text></g>
<g id="n216"><ellipse cx="6440" cy="1469.3" rx="59" ry="24"/><text x="6440" y="1475.3">216_id=g</text></g>
<g id="n215"><ellipse cx="6618" cy="1469.3" rx="92" ry="24"/><text x="6618" y="1475.3">215_Param=null</text></g>
<g id="n33"><ellipse cx="1224" cy="1565.3" rx="66" ry="24"/><text x="1224" y="1571.3">33_Val=r1</text></g>
<g id="n32"><ellipse cx="1375" cy="1565.3" rx="61" ry="24"/><text x="1375" y="1571.3">32_Val=1</text></g>
<g id="n36"><ellipse cx="1523" cy="1565.3" rx="62" ry="24"/><text x="1523" y="1571.3">36_Val=q</text></g>
<g id="n35"><ellipse cx="1685" cy="1565.3" rx="74" ry="24"/><text x="1685" y="1571.3">35_Val=true</text></g>
<g id="n39"><ellipse cx="1872" cy="1565.3" rx="88" ry="24"/><text x="1872" y="1571.3">39_ID=xz=true</text></g>
<g id="n60"><ellipse cx="2088" cy="1565.3" rx="61" ry="24"/><text x="2088" y="1571.3">60_Val=1</text></g>
<g id="n61"><ellipse cx="2241" cy="1565.3" rx="67" ry="24"/><text x="2241" y="1571.3">61_Val=10</text></g>
<g id="n62"><ellipse cx="2387" cy="1565.3" rx="54" ry="24"/><text x="2387" y="1571.3">62_ID=i</text></g>
<g id="n65"><ellipse cx="2606" cy="1565.3" rx="140" ry="24"/><text x="2606" y="1571.3">65_Var_Box_Assign=null</text></g>
<g id="n78"><ellipse cx="2848" cy="1565.3" rx="77" ry="24"/><text x="2848" y="1571.3">78_Type=int</text></g>
<g id="n77"><ellipse cx="3024" cy="1565.3" rx="74" ry="24"/><text x="3024" y="1571.3">77_id=x = 0</text></g>
<g id="n88"><ellipse cx="3202" cy="1565.3" rx="79" ry="24"/><text x="3202" y="1571.3">88_Type=for</text></g>
<g id="n87"><ellipse cx="3393" cy="1565.3" rx="88" ry="24"/><text x="3393" y="1571.3">87_Range=null</text></g>
<g id="n101"><ellipse cx="3815" cy="1565.3" rx="71" ry="24"/><text x="3815" y="1571.3">101_Is=null</text></g>
<g id="n108"><ellipse cx="4022" cy="1565.3" rx="71" ry="24"/><text x="4022" y="1571.3">108_Is=null</text></g>
<g id="n113"><ellipse cx="4222" cy="1565.3" rx="102" ry="24"/><text x="4222" y="1571.3">113_Type=default</text></g>
<g id="n112"><ellipse cx="4486" cy="1565.3" rx="132" ry="24"/><text x="4486" y="1571.3">112_Inside_Default=null</text></g>
<g id="n214"><ellipse cx="6513" cy="1565.3" rx="92" ry="24"/><text x="6513" y="1571.3">214_Type=bool</text></g>
<g id="n213"><ellipse cx="6722" cy="1565.3" rx="92" ry="24"/><text x="6722" y="1571.3">213_Param=null</text></g>
<g id="n64"><ellipse cx="2604" cy="1661.3" rx="109" ry="24"/><text x="2604" y="1667.3">64_Box_ID=arr(i)=j</text></g>
<g id="n83"><ellipse cx="3133" cy="1661.3" rx="70" ry="24"/><text x="3133" y="1667.3">83_To=null</text></g>
<g id="n86"><ellipse cx="3393" cy="1661.3" rx="110" ry="24"/><text x="3393" y="1667.3">86_Inside_For=null</text></g>
<g id="n100"><ellipse cx="3606" cy="1661.3" rx="79" ry="24"/><text x="3606" y="1667.3">100_Type=is</text></g>
<g id="n99"><ellipse cx="3813" cy="1661.3" rx="104" ry="24"/><text x="3813" y="1667.3">99_Condition=null</text></g>
<g id="n107"><ellipse cx="4022" cy="1661.3" rx="79" ry="24"/><text x="4022" y="1667.3">107_Type=is</text></g>
<g id="n106"><ellipse cx="4235" cy="1661.3" rx="111" ry="24"/><text x="4235" y="1667.3">106_Condition=null</text></g>
<g id="n111"><ellipse cx="4490" cy="1661.3" rx="119" ry="24"/><text x="4490" y="1667.3">111_Var_Assign=null</text></g>
<g id="n212"><ellipse cx="6722" cy="1661.3" rx="58" ry="24"/><text x="6722" y="1667.3">212_id=t</text></g>
<g id="n80"><ellipse cx="2881" cy="1757.3" rx="62" ry="24"/><text x="2881" y="1763.3">80_Val=1</text></g>
<g id="n81"><ellipse cx="3034" cy="1757.3" rx="68" ry="24"/><text x="3034" y="1763.3">81_Val=10</text></g>
<g id="n82"><ellipse cx="3181" cy="1757.3" rx="54" ry="24"/><text x="3181" y="1763.3">82_ID=i</text></g>
<g id="n85"><ellipse cx="3399" cy="1757.3" rx="140" ry="24"/><text x="3399" y="1763.3">85_Var_Box_Assign=null</text></g>
<g id="n98"><ellipse cx="3645" cy="1757.3" rx="57" ry="24"/><text x="3645" y="1763.3">98_Val='A'</text></g>
<g id="n97"><ellipse cx="3850" cy="1757.3" rx="110" ry="24"/><text x="3850" y="1763.3">97_Inside_Is=null</text></g>
<g id="n105"><ellipse cx="4064" cy="1757.3" rx="74" ry="24"/><text x="4064" y="1763.3">105_Val='B'</text></g>
<g id="n104"><ellipse cx="4269" cy="1757.3" rx="107" ry="24"/><text x="4269" y="1763.3">104_Inside_Is=null</text></g>
<g id="n110"><ellipse cx="4490" cy="1757.3" rx="83" ry="24"/><text x="4490" y="1763.3">110_ID=z='B'</text></g>
<g id="n84"><ellipse cx="3399" cy="1853.3" rx="114" ry="24"/><text x="3399" y="1859.3">84_Box_ID=x(i)=55</text></g>
<g id="n96"><ellipse cx="3851" cy="1853.3" rx="114" ry="24"/><text x="3851" y="1859.3">96_Var_Assign=null</text></g>
<g id="n103"><ellipse cx="4269" cy="1853.3" rx="120" ry="24"/><text x="4269" y="1859.3">103_Var_Assign=null</text></g>
<g id="n95"><ellipse cx="3851" cy="1949.3" rx="87" ry="24"/><text x="3851" y="1955.3">95_ID=a=false</text></g>
<g id="n102"><ellipse cx="4269" cy="1949.3" rx="88" ry="24"/><text x="4269" y="1955.3">102_ID=a=true</text></g>
</svg>
